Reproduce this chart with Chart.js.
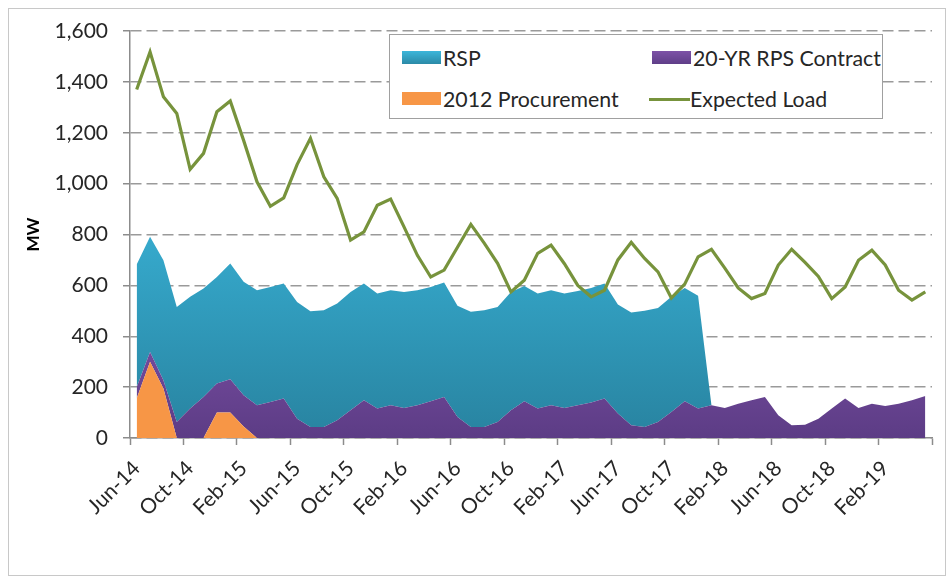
<!DOCTYPE html>
<html>
<head>
<meta charset="utf-8">
<title>Supply vs Expected Load</title>
<script src="https://cdn.jsdelivr.net/npm/chart.js@4.4.1/dist/chart.umd.min.js"></script>
<style>
  body { margin: 0; background: #fff; font-family: Lato, sans-serif; }
  #wrap { position: relative; width: 949px; height: 579px; }
  #frame { position: absolute; left: 8px; top: 8px; width: 938px; height: 568px; border: 1px solid #c8c8c8; box-sizing: border-box; }
  canvas { position: absolute; left: 0; top: 0; }
  #legend { position: absolute; left: 389px; top: 34px; width: 494px; height: 85px; border: 1px solid #a0a0a0; background: #fff; box-sizing: border-box; }
  .sw { position: absolute; height: 13px; }
  .ln { position: absolute; height: 3px; background: #77933c; }
  .lt { position: absolute; font-size: 21.3px; line-height: 26px; color: #262626; white-space: nowrap; }
</style>
</head>
<body>
<div id="wrap">
  <div id="frame"></div>
  <canvas id="myChart" width="949" height="579"></canvas>
  <div id="legend"></div>
</div>

<script>
var months = ["Jun-14","Jul-14","Aug-14","Sep-14","Oct-14","Nov-14","Dec-14","Jan-15","Feb-15","Mar-15","Apr-15","May-15",
  "Jun-15","Jul-15","Aug-15","Sep-15","Oct-15","Nov-15","Dec-15","Jan-16","Feb-16","Mar-16","Apr-16","May-16",
  "Jun-16","Jul-16","Aug-16","Sep-16","Oct-16","Nov-16","Dec-16","Jan-17","Feb-17","Mar-17","Apr-17","May-17",
  "Jun-17","Jul-17","Aug-17","Sep-17","Oct-17","Nov-17","Dec-17","Jan-18","Feb-18","Mar-18","Apr-18","May-18",
  "Jun-18","Jul-18","Aug-18","Sep-18","Oct-18","Nov-18","Dec-18","Jan-19","Feb-19","Mar-19","Apr-19","May-19"];

var procurement2012 = [155,300,195,0,0,0,100,100,45,0,0,0,
  0,0,0,0,0,0,0,0,0,0,0,0,
  0,0,0,0,0,0,0,0,0,0,0,0,
  0,0,0,0,0,0,0,0,0,0,0,0,
  0,0,0,0,0,0,0,0,0,0,0,0];

var rpsContract = [45,38,32,63,116,161,114,131,123,129,142,155,
  76,43,43,70,109,148,116,129,118,129,144,161,
  83,43,43,63,109,144,116,129,118,129,140,155,
  96,50,43,63,102,144,116,129,118,135,148,161,
  89,50,52,76,116,155,118,135,126,135,148,165];

var rsp = [482,453,472,452,439,427,419,455,446,452,452,452,
  459,455,459,459,465,459,452,452,456,452,450,450,
  437,453,459,452,465,454,452,452,450,449,450,452,
  429,443,457,448,453,446,443,0,0,0,0,0,
  0,0,0,0,0,0,0,0,0,0,0,0];

var expectedLoad = [1370,1518,1342,1276,1056,1119,1283,1325,1170,1007,911,944,
  1075,1178,1027,942,778,810,915,939,830,718,633,660,
  750,840,766,687,574,620,726,758,685,600,555,581,
  700,769,706,653,550,605,712,742,668,590,548,568,
  680,742,690,635,548,594,699,738,680,581,542,574];

var yTicks = [0,200,400,600,800,1000,1200,1400,1600];

function vgrad(context, stops) {
  var chart = context.chart;
  var area = chart.chartArea;
  if (!area) return stops[0][1];
  var g = chart.ctx.createLinearGradient(0, area.top, 0, area.bottom);
  stops.forEach(function(s){ g.addColorStop(s[0], s[1]); });
  return g;
}

var ctx = document.getElementById("myChart").getContext('2d');
var myChart = new Chart(ctx, {
  type: 'line',
  data: {
    labels: months,
    datasets: [{
      label: '2012 Procurement',
      data: procurement2012,
      stack: 'supply',
      fill: 'origin',
      backgroundColor: '#f79646',
      borderWidth: 0,
      pointRadius: 0,
      order: 1
    }, {
      label: '20-YR RPS Contract',
      data: rpsContract,
      stack: 'supply',
      fill: '-1',
      backgroundColor: function(c){ return vgrad(c, [[0, '#8a5cb3'], [0.7, '#7b4fa4'], [1, '#5c3c85']]); },
      borderWidth: 0,
      pointRadius: 0,
      order: 1
    }, {
      label: 'RSP',
      data: rsp,
      stack: 'supply',
      fill: '-1',
      backgroundColor: function(c){ return vgrad(c, [[0, '#3dbadd'], [0.5, '#36aacd'], [1, '#2883a0']]); },
      borderWidth: 0,
      pointRadius: 0,
      order: 1
    }, {
      label: 'Expected Load',
      data: expectedLoad,
      stack: 'load',
      fill: false,
      borderColor: '#77933c',
      borderWidth: 3.2,
      pointRadius: 0,
      tension: 0,
      order: 0
    }]
  },
  options: {
    responsive: false,
    animation: false,
    layout: { padding: { left: 0, right: 17, top: 31, bottom: 0 } },
    plugins: {
      legend: { display: false },
      tooltip: { enabled: false }
    },
    scales: {
      x: {
        offset: true,
        grid: {
          offset: true,
          drawOnChartArea: false,
          drawTicks: true,
          tickLength: 7,
          tickWidth: 1.5,
          tickColor: function(c){ return (c.index === undefined || c.index % 4 === 0) ? '#8c8c8c' : 'rgba(0,0,0,0)'; }
        },
        border: { display: true, color: '#8c8c8c', width: 1.5 },
        ticks: {
          autoSkip: false,
          minRotation: 45,
          maxRotation: 45,
          padding: 11,
          color: '#262626',
          font: { family: 'Lato', size: 21 },
          callback: function(v, i){ return i % 4 === 0 ? months[i] : ''; }
        },
        afterFit: function(s){ s.height = 141; s.paddingLeft = 0; s.paddingRight = 0; }
      },
      y: {
        stacked: true,
        min: 0,
        max: 1600,
        afterBuildTicks: function(s){ s.ticks = yTicks.map(function(v){ return {value: v}; }); },
        grid: {
          display: true,
          drawOnChartArea: true,
          color: '#9a9a9a',
          lineWidth: 1.5,
          tickLength: 7,
          tickColor: '#8c8c8c',
          tickBorderDash: []
        },
        border: { display: true, color: '#8c8c8c', width: 1.5, dash: [11, 5] },
        ticks: {
          padding: 15,
          color: '#262626',
          font: { family: 'Lato', size: 21 },
          callback: function(v){ return v.toLocaleString('en-US'); }
        },
        title: {
          display: true,
          text: 'MW',
          color: '#000',
          font: { family: 'Lato', size: 17, weight: 'bold' },
          padding: { top: 23, bottom: 0 }
        },
        afterFit: function(s){ s.width = 130; s.paddingTop = 0; s.paddingBottom = 0; }
      }
    }
  }
});

// legend box, laid out like the spreadsheet one
var legendItems = [
  { text: 'RSP', kind: 'box', color: 'linear-gradient(#3cb6da, #2b8aa7)', x: 401, y: 57 },
  { text: '20-YR RPS Contract', kind: 'box', color: 'linear-gradient(#7d52a7, #5f3e88)', x: 651, y: 57 },
  { text: '2012 Procurement', kind: 'box', color: '#f79646', x: 401, y: 98 },
  { text: 'Expected Load', kind: 'line', color: '#77933c', x: 648, y: 98 }
];
var lg = document.getElementById('legend');
legendItems.forEach(function(it){
  var ox = it.x - 389, oy = it.y - 34;
  var sw = document.createElement('div');
  if (it.kind === 'box') {
    sw.className = 'sw';
    sw.style.left = ox + 'px'; sw.style.top = (oy - 7) + 'px';
    sw.style.width = '39px'; sw.style.background = it.color;
  } else {
    sw.className = 'ln';
    sw.style.left = ox + 'px'; sw.style.top = (oy - 1.5) + 'px';
    sw.style.width = '41px';
  }
  lg.appendChild(sw);
  var t = document.createElement('div');
  t.className = 'lt';
  t.textContent = it.text;
  t.style.left = (ox + 41) + 'px';
  t.style.top = (oy - 13) + 'px';
  lg.appendChild(t);
});
</script>
</body>
</html>
